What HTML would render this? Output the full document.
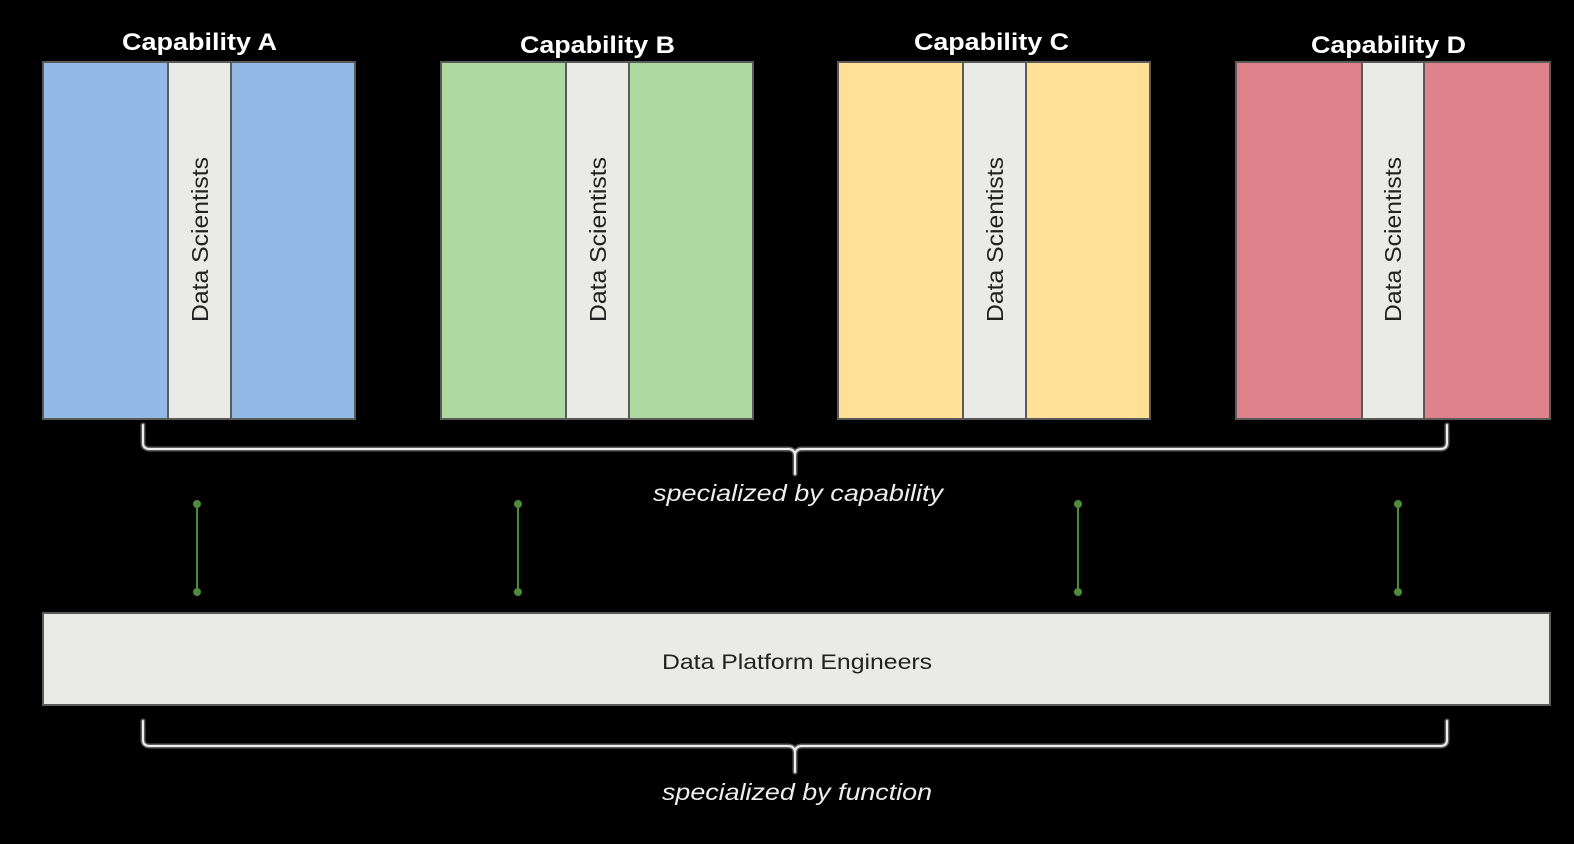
<!DOCTYPE html>
<html>
<head>
<meta charset="utf-8">
<style>
  html,body{margin:0;padding:0;background:#000;}
  body{width:1574px;height:844px;overflow:hidden;}
  svg{display:block;}
  text{font-family:"Liberation Sans", Arial, sans-serif;}
</style>
</head>
<body>
<svg width="1574" height="844" viewBox="0 0 1574 844" xmlns="http://www.w3.org/2000/svg">
  <rect x="0" y="0" width="1574" height="844" fill="#000"/>

  <!-- Titles -->
  <g font-weight="bold" font-size="24" fill="#ffffff">
    <text x="122" y="50" textLength="155" lengthAdjust="spacingAndGlyphs">Capability A</text>
    <text x="520" y="53" textLength="155" lengthAdjust="spacingAndGlyphs">Capability B</text>
    <text x="914" y="50" textLength="155" lengthAdjust="spacingAndGlyphs">Capability C</text>
    <text x="1311" y="53" textLength="155" lengthAdjust="spacingAndGlyphs">Capability D</text>
  </g>

  <!-- Capability A -->
  <rect x="43" y="62" width="312" height="357" fill="#93b9e7" stroke="#5a5a5a" stroke-width="2"/>
  <rect x="168" y="62" width="63" height="357" fill="#eaeae6" stroke="#5a5a5a" stroke-width="2"/>
  <!-- Capability B -->
  <rect x="441" y="62" width="312" height="357" fill="#aed9a0" stroke="#5a5a5a" stroke-width="2"/>
  <rect x="566" y="62" width="63" height="357" fill="#eaeae6" stroke="#5a5a5a" stroke-width="2"/>
  <!-- Capability C -->
  <rect x="838" y="62" width="312" height="357" fill="#fee196" stroke="#5a5a5a" stroke-width="2"/>
  <rect x="963" y="62" width="63" height="357" fill="#eaeae6" stroke="#5a5a5a" stroke-width="2"/>
  <!-- Capability D -->
  <rect x="1236" y="62" width="314" height="357" fill="#e0828b" stroke="#5a5a5a" stroke-width="2"/>
  <rect x="1362" y="62" width="62" height="357" fill="#eaeae6" stroke="#5a5a5a" stroke-width="2"/>

  <!-- Data Scientists vertical labels -->
  <g font-size="23" fill="#222">
    <text transform="translate(208,322) rotate(-90)" textLength="165" lengthAdjust="spacingAndGlyphs">Data Scientists</text>
    <text transform="translate(606,322) rotate(-90)" textLength="165" lengthAdjust="spacingAndGlyphs">Data Scientists</text>
    <text transform="translate(1003,322) rotate(-90)" textLength="165" lengthAdjust="spacingAndGlyphs">Data Scientists</text>
    <text transform="translate(1401,322) rotate(-90)" textLength="165" lengthAdjust="spacingAndGlyphs">Data Scientists</text>
  </g>

  <!-- Top brace -->
  <g fill="none" stroke-linecap="round" stroke-linejoin="round">
    <path d="M143,425 L143,443 Q143,449 150,449 L788,449 Q795,449 795,456 L795,474 M795,456 Q795,449 802,449 L1440,449 Q1447,449 1447,443 L1447,425" stroke="#5e5e5e" stroke-width="5"/>
    <path d="M143,425 L143,443 Q143,449 150,449 L788,449 Q795,449 795,456 L795,474 M795,456 Q795,449 802,449 L1440,449 Q1447,449 1447,443 L1447,425" stroke="#eeeeee" stroke-width="2"/>
  </g>
  <text x="653" y="501" font-size="23" font-style="italic" fill="#eeeeee" textLength="290" lengthAdjust="spacingAndGlyphs">specialized by capability</text>

  <!-- Green connectors -->
  <g stroke="#4e8a3c" stroke-width="2" fill="#4e8a3c">
    <line x1="197" y1="504" x2="197" y2="592"/>
    <circle cx="197" cy="504" r="3"/><circle cx="197" cy="592" r="3"/>
    <line x1="518" y1="504" x2="518" y2="592"/>
    <circle cx="518" cy="504" r="3"/><circle cx="518" cy="592" r="3"/>
    <line x1="1078" y1="504" x2="1078" y2="592"/>
    <circle cx="1078" cy="504" r="3"/><circle cx="1078" cy="592" r="3"/>
    <line x1="1398" y1="504" x2="1398" y2="592"/>
    <circle cx="1398" cy="504" r="3"/><circle cx="1398" cy="592" r="3"/>
  </g>

  <!-- Data Platform Engineers -->
  <rect x="43" y="613" width="1507" height="92" fill="#eaeae6" stroke="#5a5a5a" stroke-width="2"/>
  <text x="662" y="669" font-size="21" fill="#222" textLength="270" lengthAdjust="spacingAndGlyphs">Data Platform Engineers</text>

  <!-- Bottom brace -->
  <g fill="none" stroke-linecap="round" stroke-linejoin="round">
    <path d="M143,721 L143,740 Q143,746 150,746 L788,746 Q795,746 795,753 L795,772 M795,753 Q795,746 802,746 L1440,746 Q1447,746 1447,740 L1447,721" stroke="#5e5e5e" stroke-width="5"/>
    <path d="M143,721 L143,740 Q143,746 150,746 L788,746 Q795,746 795,753 L795,772 M795,753 Q795,746 802,746 L1440,746 Q1447,746 1447,740 L1447,721" stroke="#eeeeee" stroke-width="2"/>
  </g>
  <text x="662" y="800" font-size="23" font-style="italic" fill="#eeeeee" textLength="270" lengthAdjust="spacingAndGlyphs">specialized by function</text>
</svg>
</body>
</html>
